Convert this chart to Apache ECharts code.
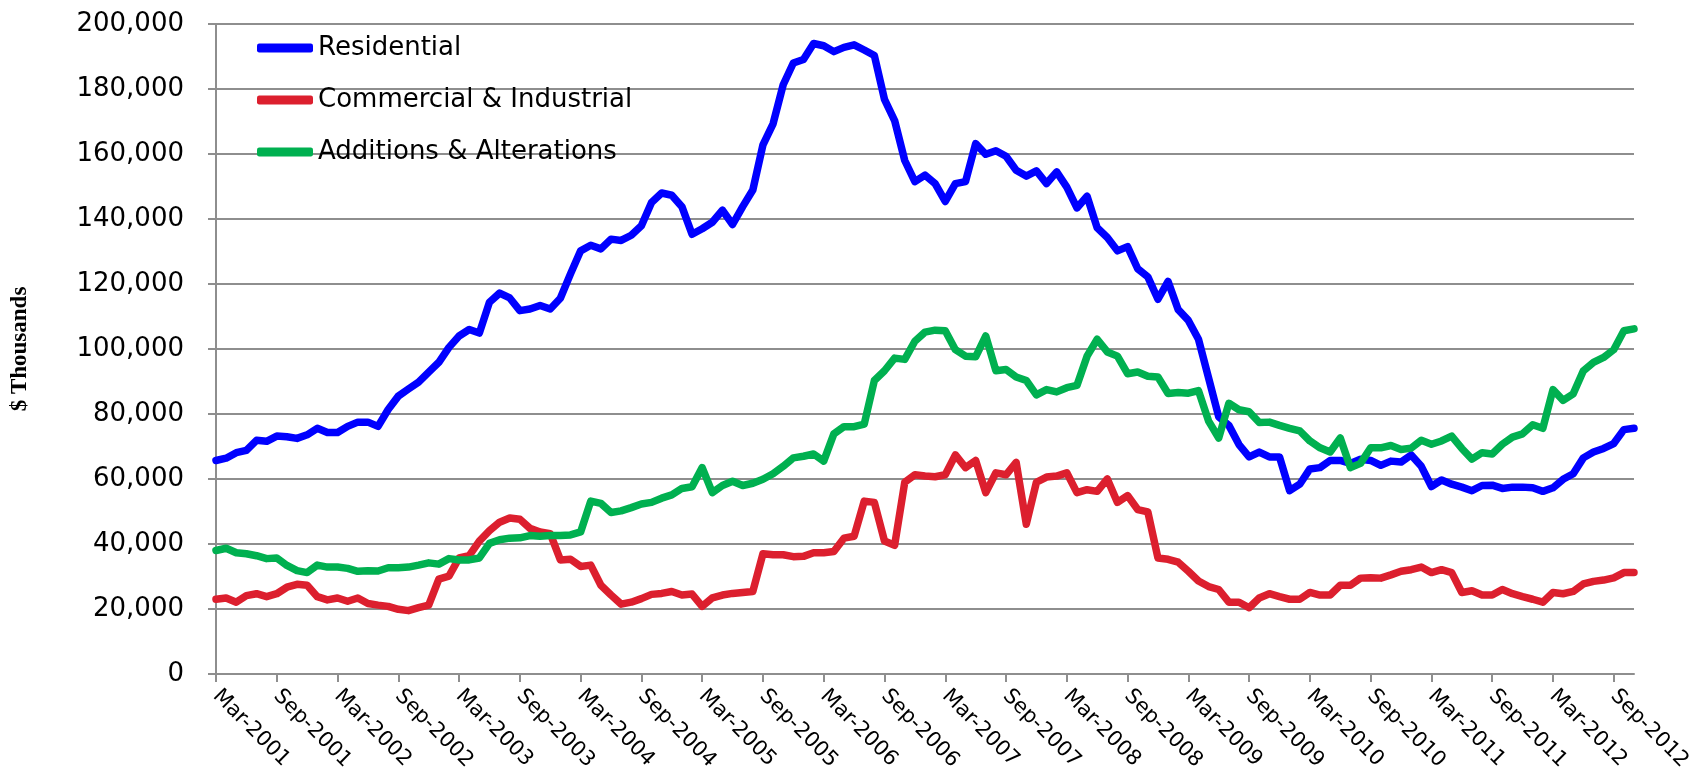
<!DOCTYPE html>
<html>
<head>
<meta charset="utf-8">
<title>Building permits</title>
<script src="https://cdn.jsdelivr.net/npm/echarts@6/dist/echarts.min.js"></script>
<style>
  html, body { margin: 0; padding: 0; background: #fff; }
  #chart { width: 1697px; height: 770px; }
</style>
</head>
<body>
<div id="chart"></div>
<script>
// monthly categories Mar-2001 .. Nov-2012
const monthNames = ["Jan", "Feb", "Mar", "Apr", "May", "Jun", "Jul", "Aug", "Sep", "Oct", "Nov", "Dec"];
const categories = [];
for (let i = 0; i < 141; i++) {
  const m = (2 + i) % 12;
  const y = 2001 + Math.floor((2 + i) / 12);
  categories.push(monthNames[m] + "-" + y);
}

// $ thousands
const residential = [
  65700, 66400, 68100, 68800, 71900, 71600, 73200, 73000, 72500, 73600,
  75600, 74300, 74300, 76200, 77500, 77500, 76200, 81400, 85500, 87700,
  89800, 92900, 95900, 100500, 104000, 106000, 104900, 114400, 117200, 115700,
  111800, 112300, 113400, 112300, 115600, 123100, 130200, 131900, 130800, 133800,
  133400, 135000, 137900, 145100, 148000, 147300, 143800, 135300, 137000, 139000,
  142700, 138300, 143800, 148900, 162800, 169300, 181300, 188000, 189100, 194000,
  193300, 191500, 192800, 193600, 192000, 190300, 176800, 170300, 158000, 151500,
  153500, 150900, 145400, 150900, 151500, 163200, 159900, 161000, 159300, 155000,
  153200, 154800, 150900, 154500, 149800, 143400, 147000, 137300, 134300, 130200,
  131500, 124700, 122200, 115300, 120800, 112100, 108800, 103000, 91100, 79100,
  76500, 70600, 66800, 68300, 66800, 66800, 56400, 58400, 63100, 63500,
  65700, 65700, 64800, 66100, 65700, 64200, 65500, 65200, 67400, 63900,
  57700, 59700, 58400, 57500, 56400, 58000, 58100, 57100, 57500, 57500,
  57300, 56200, 57300, 59900, 61600, 66500, 68300, 69400, 70900, 75200,
  75600
];
const commercial = [
  23000, 23400, 22100, 24100, 24700, 23800, 24700, 26700, 27600, 27300,
  23800, 22800, 23400, 22400, 23400, 21700, 21200, 20800, 19900, 19500,
  20400, 21200, 29200, 30100, 35700, 36400, 40900, 44100, 46700, 48000,
  47600, 44800, 43700, 43200, 35100, 35300, 33100, 33500, 27300, 24300,
  21500, 22100, 23200, 24500, 24800, 25400, 24300, 24600, 20800, 23400,
  24300, 24800, 25100, 25400, 37000, 36700, 36700, 36100, 36200, 37300,
  37300, 37700, 41800, 42400, 53200, 52800, 40900, 39600, 59000, 61300,
  60900, 60700, 61300, 67400, 63500, 65700, 55800, 61900, 61300, 65100,
  46100, 59000, 60600, 60900, 61900, 55800, 56700, 56200, 60000, 52800,
  54900, 50600, 49900, 35700, 35300, 34400, 31600, 28600, 26900, 26000,
  22100, 22100, 20400, 23400, 24700, 23800, 23000, 23000, 25100, 24300,
  24300, 27300, 27300, 29500, 29600, 29500, 30500, 31600, 32100, 32900,
  31200, 32100, 31200, 25100, 25600, 24300, 24300, 26000, 24700, 23800,
  23000, 22100, 25100, 24700, 25400, 27700, 28500, 28900, 29600, 31200,
  31200
];
const additions = [
  38000, 38700, 37300, 37000, 36400, 35500, 35700, 33400, 31800, 31200,
  33500, 32900, 32900, 32500, 31600, 31800, 31700, 32700, 32700, 32900,
  33500, 34200, 33800, 35500, 35100, 35100, 35700, 40200, 41300, 41800,
  41900, 42600, 42400, 42600, 42600, 42800, 43700, 53200, 52500, 49700,
  50200, 51200, 52300, 52800, 54100, 55100, 57100, 57600, 63500, 55800,
  58000, 59300, 58000, 58700, 59900, 61600, 63900, 66500, 67000, 67700,
  65500, 73900, 76100, 76100, 76900, 90300, 93300, 97200, 96800, 102400,
  105200, 105800, 105600, 99800, 97800, 97600, 104000, 93300, 93700, 91400,
  90300, 85900, 87500, 86800, 88100, 88800, 97800, 103000, 99100, 97800,
  92400, 92900, 91600, 91400, 86300, 86600, 86400, 87200, 77800, 72600,
  83300, 81300, 80700, 77400, 77500, 76500, 75600, 74800, 71700, 69600,
  68300, 72600, 63500, 64800, 69600, 69600, 70300, 69100, 69500, 71900,
  70700, 71700, 73200, 69400, 66100, 68100, 67700, 70700, 72900, 73900,
  76700, 75600, 87500, 84200, 86200, 93300, 95900, 97400, 99800, 105600,
  106200
];

const seriesNames = ["Residential", "Commercial & Industrial", "Additions & Alterations"];
const colors = ["#0000ff", "#dc1f2e", "#00b050"];

const chart = echarts.init(document.getElementById("chart"));
const gridColor = "#8e8e8e";

function lineSeries(name, data) {
  return {
    name: name,
    type: "line",
    data: data,
    symbol: "none",
    showSymbol: false,
    lineStyle: { width: 7.5, cap: "round", join: "round" },
  };
}

chart.setOption({
  animation: false,
  color: colors,
  textStyle: { fontFamily: "DejaVu Sans", color: "#000" },
  grid: { left: 216, right: 63, top: 24, bottom: 96, containLabel: false, outerBoundsMode: "none" },
  legend: {
    data: seriesNames,
    orient: "vertical",
    left: 257,
    top: 33,
    padding: 0,
    itemWidth: 56,
    itemHeight: 9,
    itemGap: 22,
    icon: "roundRect",
    selectedMode: false,
    textStyle: { fontSize: 26, lineHeight: 30, color: "#000", fontFamily: "DejaVu Sans" },
  },
  xAxis: {
    type: "category",
    data: categories,
    boundaryGap: false,
    axisLine: { lineStyle: { color: gridColor, width: 2 } },
    axisTick: { show: true, interval: 5, length: 8, lineStyle: { color: gridColor, width: 2 } },
    axisLabel: { interval: 5, rotate: -45, margin: 19, fontSize: 21, color: "#000" },
    splitLine: { show: false },
  },
  yAxis: {
    type: "value",
    min: 0,
    max: 200000,
    interval: 20000,
    name: "$ Thousands",
    nameLocation: "middle",
    nameGap: 184,
    nameTextStyle: { fontFamily: "Liberation Serif", fontWeight: "bold", fontSize: 23, color: "#000" },
    axisLine: { show: true, lineStyle: { color: gridColor, width: 2 } },
    axisTick: { show: true, length: 8, lineStyle: { color: gridColor, width: 2 } },
    axisLabel: {
      margin: 32,
      fontSize: 26,
      color: "#000",
      formatter: function (v) { return v.toLocaleString("en-US"); },
    },
    splitLine: { lineStyle: { color: gridColor, width: 2 } },
  },
  series: [
    lineSeries(seriesNames[0], residential),
    lineSeries(seriesNames[1], commercial),
    lineSeries(seriesNames[2], additions),
  ],
});
</script>
</body>
</html>
